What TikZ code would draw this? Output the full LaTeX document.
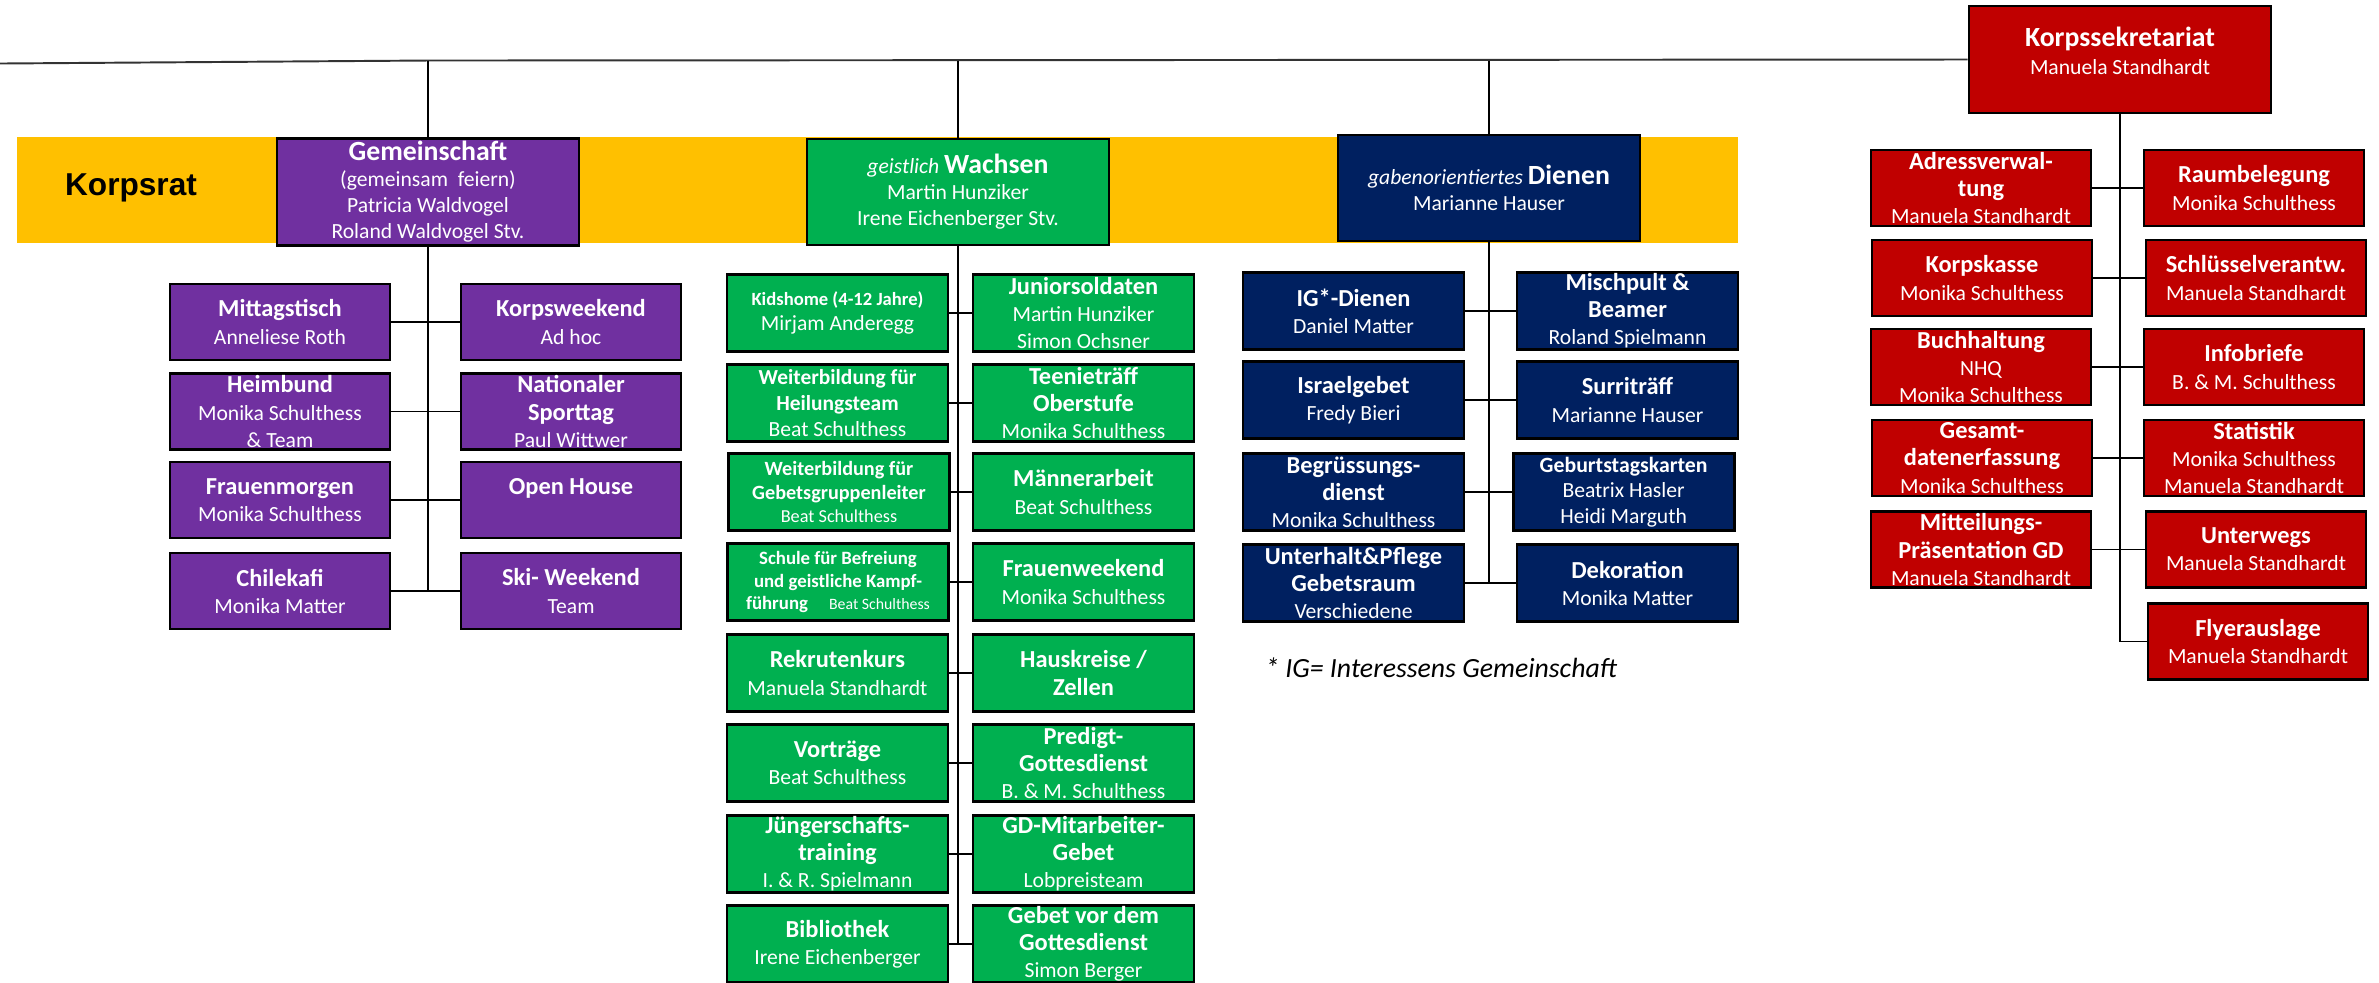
\documentclass[tikz,border=0pt]{standalone}
\usepackage{fontspec}
\setmainfont{Carlito}
\newfontfamily\arialfont{Liberation Sans}
\definecolor{purp}{HTML}{7030A0}
\definecolor{grn}{HTML}{00B050}
\definecolor{navy}{HTML}{002060}
\definecolor{rd}{HTML}{C00000}
\definecolor{band}{HTML}{FFC000}
\newcommand{\bt}[1]{{\fontsize{6.95}{7.7}\selectfont\bfseries #1}}
\newcommand{\bts}[2]{{\fontsize{#1}{7}\selectfont\bfseries #2}}
\newcommand{\toptitle}[1]{{\fontsize{7.9}{7.5}\selectfont\bfseries #1}}
\begin{document}
\begin{tikzpicture}[x=0.1mm,y=-0.1mm,
  box/.style={draw=black, line width=0.8pt, minimum width=22mm, minimum height=7.6mm,
    inner sep=0pt, align=center, text=white, font=\fontsize{6.15}{7.7}\selectfont},
  pbox/.style={box, fill=purp},
  gbox/.style={box, fill=grn, minimum width=22.1mm, minimum height=7.7mm},
  nbox/.style={box, fill=navy, minimum width=22.1mm, minimum height=7.7mm},
  rbox/.style={box, fill=rd},
  head/.style={box, minimum width=30.2mm, minimum height=10.7mm, font=\fontsize{6.15}{7.4}\selectfont},
  conn/.style={draw=black, line width=0.35pt},
  topline/.style={draw=black!80, line width=0.55pt}]
\useasboundingbox (0,0) rectangle (2379,982);
\fill[band] (17,137) rectangle (1738,243);
\node[font=\arialfont\bfseries\fontsize{9}{10}\selectfont, text=black] (korpsrat) at (131,188) {Korpsrat};

% top level
\node[head, fill=purp] (gem) at (428,192) {\toptitle{Gemeinschaft}\\(gemeinsam\ \ feiern)\\Patricia Waldvogel\\Roland Waldvogel Stv.};
\node[head, fill=grn, minimum height=10.6mm] (wach) at (958,192) {{\itshape geistlich} \toptitle{Wachsen}\\Martin Hunziker\\Irene Eichenberger Stv.};
\node[head, fill=navy, minimum height=10.6mm] (dien) at (1489,188) {{\itshape gabenorientiertes} \toptitle{Dienen}\\Marianne Hauser};
\node[head, fill=rd] (ks) at (2120,59.5) {};
\node[align=center, text=white, inner sep=0pt, font=\fontsize{6.15}{7.9}\selectfont] (kstext) at (2120,51) {\toptitle{Korpssekretariat}\\Manuela Standhardt};

% purple
\node[pbox] (mitt) at (280,322) {\bt{Mittagstisch}\\Anneliese Roth};
\node[pbox] (korpsw) at (571,322) {\bt{Korpsweekend}\\Ad hoc};
\node[pbox] (heim) at (280,411.5) {\bt{Heimbund}\\Monika Schulthess\\\&~Team};
\node[pbox] (natsp) at (571,411.5) {\bt{Nationaler}\\\bt{Sporttag}\\Paul Wittwer};
\node[pbox] (fraum) at (280,500) {\bt{Frauenmorgen}\\Monika Schulthess};
\node[pbox] (openh) at (571,500) {\bt{Open House}\\\mbox{}};
\node[pbox] (chile) at (280,591) {\bt{Chilekafi}\\Monika Matter};
\node[pbox] (skiw) at (571,591) {\bt{Ski- Weekend}\\Team};

% green
\node[gbox, font=\fontsize{6.15}{6.9}\selectfont] (kids) at (837.5,313) {\bts{5.3}{Kidshome (4-12 Jahre)}\\Mirjam Anderegg};
\node[gbox] (junior) at (1083.5,313) {\bt{Juniorsoldaten}\\Martin Hunziker\\Simon Ochsner};
\node[gbox, font=\fontsize{6.15}{7.3}\selectfont] (heil) at (837.5,403) {\bts{6.1}{Weiterbildung für}\\\bts{6.1}{Heilungsteam}\\Beat Schulthess};
\node[gbox] (teenie) at (1083.5,403) {\bt{Teenieträff}\\\bt{Oberstufe}\\Monika Schulthess};
\node[gbox, font=\fontsize{6}{6.7}\selectfont] (gebgr) at (839,492) {\bts{5.75}{Weiterbildung für}\\\bts{5.75}{Gebetsgruppenleiter}\\{\fontsize{5.2}{6}\selectfont Beat Schulthess}};
\node[gbox] (maenner) at (1083.5,492) {\bt{Männerarbeit}\\Beat Schulthess};
\node[gbox, font=\fontsize{6}{6.4}\selectfont] (schule) at (838,582) {\bts{5.35}{Schule für Befreiung}\\\bts{5.35}{und geistliche Kampf-}\\\bts{5.35}{führung}\quad{\fontsize{4.5}{5}\selectfont Beat Schulthess}};
\node[gbox] (frauw) at (1083.5,582) {\bt{Frauenweekend}\\Monika Schulthess};
\node[gbox] (rekr) at (837.5,673) {\bt{Rekrutenkurs}\\Manuela Standhardt};
\node[gbox] (haus) at (1083.5,673) {\bt{Hauskreise /}\\\bt{Zellen}};
\node[gbox] (vortr) at (837.5,763) {\bt{Vorträge}\\Beat Schulthess};
\node[gbox] (predigt) at (1083.5,763) {\bt{Predigt-}\\\bt{Gottesdienst}\\B. \& M. Schulthess};
\node[gbox] (juenger) at (837.5,854) {\bt{Jüngerschafts-}\\\bt{training}\\I. \& R. Spielmann};
\node[gbox] (gdmit) at (1083.5,854) {\bt{GD-Mitarbeiter-}\\\bt{Gebet}\\Lobpreisteam};
\node[gbox] (bib) at (837.5,944) {\bt{Bibliothek}\\Irene Eichenberger};
\node[gbox] (gebet) at (1083.5,944) {\bt{Gebet vor dem}\\\bt{Gottesdienst}\\Simon Berger};

% navy
\node[nbox] (igd) at (1353.5,311) {\bt{IG*-Dienen}\\Daniel Matter};
\node[nbox] (misch) at (1627.5,311) {\bt{Mischpult \&}\\\bt{Beamer}\\Roland Spielmann};
\node[nbox] (israel) at (1353.5,400) {\bt{Israelgebet}\\Fredy Bieri};
\node[nbox] (surri) at (1627.5,400) {\bt{Surriträff}\\Marianne Hauser};
\node[nbox] (begr) at (1353.5,492) {\bt{Begrüssungs-}\\\bt{dienst}\\Monika Schulthess};
\node[nbox, font=\fontsize{6.15}{7.3}\selectfont] (geburt) at (1623.6,492) {\bts{6.2}{Geburtstagskarten}\\Beatrix Hasler\\Heidi Marguth};
\node[nbox] (unter) at (1353.5,583) {\bt{Unterhalt\&Pflege}\\\bt{Gebetsraum}\\Verschiedene};
\node[nbox] (deko) at (1627.5,583) {\bt{Dekoration}\\Monika Matter};
\node[font=\fontsize{7.9}{9}\selectfont\itshape, inner sep=0pt] (fn) at (1441,668) {* IG= Interessens Gemeinschaft};

% red
\node[rbox] (adr) at (1981,188) {\bt{Adressverwal-}\\\bt{tung}\\Manuela Standhardt};
\node[rbox] (raum) at (2254,188) {\bt{Raumbelegung}\\Monika Schulthess};
\node[rbox] (kasse) at (1982,278) {\bt{Korpskasse}\\Monika Schulthess};
\node[rbox] (schl) at (2256,278) {\bt{Schlüsselverantw.}\\Manuela Standhardt};
\node[rbox] (buch) at (1981,367) {\bt{Buchhaltung}\\NHQ\\Monika Schulthess};
\node[rbox] (info) at (2254,367) {\bt{Infobriefe}\\B. \& M. Schulthess};
\node[rbox] (gesamt) at (1982,458) {\bt{Gesamt-}\\\bt{datenerfassung}\\Monika Schulthess};
\node[rbox] (stat) at (2254,458) {\bt{Statistik}\\Monika Schulthess\\Manuela Standhardt};
\node[rbox] (mitteil) at (1981,549.5) {\bt{Mitteilungs-}\\\bt{Präsentation GD}\\Manuela Standhardt};
\node[rbox] (unterw) at (2256,549.5) {\bt{Unterwegs}\\Manuela Standhardt};
\node[rbox] (flyer) at (2258,641.5) {\bt{Flyerauslage}\\Manuela Standhardt};

% connectors
\coordinate (lstart) at (0,63.5);
\coordinate (jg) at (428,60.5);
\draw[topline] (lstart) -- (jg) -- (ks.west);
\draw[conn] (gem.north |- jg) -- (gem.north);
\draw[conn] (wach.north |- jg) -- (wach.north);
\draw[conn] (dien.north |- jg) -- (dien.north);

\draw[conn] (gem.south) |- (chile.east);
\draw[conn] (mitt.east) -- (korpsw.west);
\draw[conn] (heim.east) -- (natsp.west);
\draw[conn] (fraum.east) -- (openh.west);
\draw[conn] (chile.east) -- (skiw.west);

\draw[conn] (wach.south) |- (bib.east);
\draw[conn] (kids.east) -- (junior.west);
\draw[conn] (heil.east) -- (teenie.west);
\draw[conn] (gebgr.east) -- (maenner.west);
\draw[conn] (schule.east) -- (frauw.west);
\draw[conn] (rekr.east) -- (haus.west);
\draw[conn] (vortr.east) -- (predigt.west);
\draw[conn] (juenger.east) -- (gdmit.west);
\draw[conn] (bib.east) -- (gebet.west);

\draw[conn] (dien.south) |- (unter.east);
\draw[conn] (igd.east) -- (misch.west);
\draw[conn] (israel.east) -- (surri.west);
\draw[conn] (begr.east) -- (geburt.west);
\draw[conn] (unter.east) -- (deko.west);

\draw[conn] (ks.south) |- (flyer.west);
\draw[conn] (adr.east) -- (raum.west);
\draw[conn] (kasse.east) -- (schl.west);
\draw[conn] (buch.east) -- (info.west);
\draw[conn] (gesamt.east) -- (stat.west);
\draw[conn] (mitteil.east) -- (unterw.west);
\end{tikzpicture}
\end{document}
